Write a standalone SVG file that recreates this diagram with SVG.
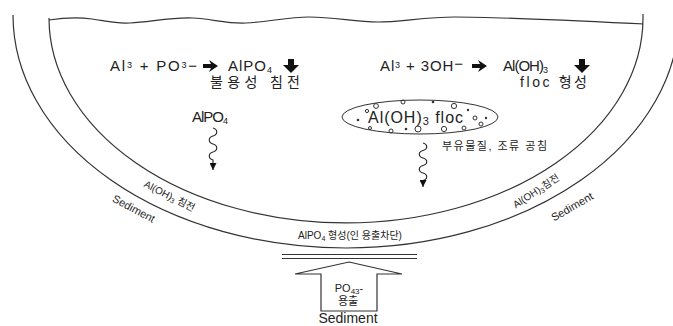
<svg xmlns="http://www.w3.org/2000/svg" width="673" height="326" viewBox="0 0 673 326">
  <style>
    text { font-family: "Liberation Sans", "Noto Sans CJK KR", sans-serif; fill: #222; }
    .eq { font-size: 15px; }
    .ko { font-size: 14px; }
    .mid { font-size: 16px; }
    .band { font-size: 10px; }
    .sed { font-size: 11px; }
    .small { font-size: 11px; }
    .line { fill: none; stroke: #333; stroke-width: 1.2; }
    .wavy { fill: none; stroke: #222; stroke-width: 1.1; }
    .bold { fill: #111; }
    .bub { fill: none; stroke: #333; stroke-width: 1; }
    .dot { fill: #333; }
  </style>
  <defs>
    <marker id="head" viewBox="0 0 10 10" refX="10" refY="5" markerWidth="7" markerHeight="7" orient="auto" markerUnits="userSpaceOnUse">
      <path d="M0,0 L10,5 L0,10 Z" fill="#111"/>
    </marker>
    <path id="rarrow" d="M0,-2 H8 L6,-6 L15,0 L6,6 L8,2 H0 Z"/>
    <path id="darrow" d="M-3,-7 H3 V-1 H8 L0,7 L-8,-1 H-3 Z"/>
  </defs>

  <!-- pond basin: sediment boundary, water body and surface -->
  <g id="basin">
    <path class="line" d="M13,15 A333,233 0 0 0 679,15"/>
    <path class="line" d="M49,18 A297,205 0 0 0 643,18 V14"/>
    <path class="line" d="M49,20 C62,18 78,17 92,19 C106,21 116,24 130,23 C150,22 172,17 193,18 C212,19 228,24 246,23 C268,22 288,17 309,17 C335,17 355,22 378,22 C400,22 425,17 455,17 C500,17 560,20 643,24"/>
  </g>

  <!-- reaction: aluminium + phosphate -->
  <g id="reaction-phosphate">
    <text class="eq" x="110" y="71" textLength="87" lengthAdjust="spacing">Al<tspan font-size="9" dy="-3">3</tspan><tspan dy="3"> + PO</tspan><tspan font-size="9" dy="-3">3</tspan><tspan dy="3">−</tspan></text>
    <use href="#rarrow" class="bold" x="203" y="66"/>
    <text class="eq" x="228" y="71" textLength="44" lengthAdjust="spacing">AlPO<tspan font-size="9" dy="2">4</tspan></text>
    <use href="#darrow" class="bold" x="291" y="66"/>
    <text class="ko" x="210" y="87" textLength="90" lengthAdjust="spacing">불용성 침전</text>
  </g>

  <!-- reaction: aluminium + hydroxide -->
  <g id="reaction-hydroxide">
    <text class="eq" x="380" y="71" textLength="83" lengthAdjust="spacing">Al<tspan font-size="9" dy="-3">3</tspan><tspan dy="3"> + 3OH</tspan><tspan dy="-2">−</tspan></text>
    <use href="#rarrow" class="bold" x="472" y="66"/>
    <text class="eq" x="503" y="71" textLength="45" lengthAdjust="spacing">Al(OH)<tspan font-size="9" dy="2">3</tspan></text>
    <use href="#darrow" class="bold" x="582" y="66"/>
    <text class="ko" x="520" y="87" textLength="67" lengthAdjust="spacing">floc 형성</text>
  </g>

  <!-- settling AlPO4 -->
  <g id="alpo4">
    <text class="eq" x="192" y="122" textLength="36" lengthAdjust="spacing">AlPO<tspan font-size="9" dy="2">4</tspan></text>
  </g>

  <!-- hydroxide floc -->
  <g id="floc">
    <ellipse class="bub" cx="420" cy="117" rx="78" ry="17"/>
    <text class="mid" x="368" y="123" textLength="95" lengthAdjust="spacing">Al(OH)<tspan font-size="11" dy="2">3</tspan><tspan dy="-2"> floc</tspan></text>
    <circle class="dot" cx="358" cy="120" r="1.3"/>
    <circle class="bub" cx="367" cy="111" r="1.6"/>
    <circle class="bub" cx="376" cy="106" r="2.4"/>
    <circle class="bub" cx="403" cy="102" r="2"/>
    <circle class="dot" cx="433" cy="102" r="1.3"/>
    <circle class="bub" cx="454" cy="106" r="2.6"/>
    <circle class="dot" cx="468" cy="110" r="1.2"/>
    <circle class="bub" cx="475" cy="118" r="2"/>
    <circle class="dot" cx="486" cy="118" r="1.2"/>
    <circle class="bub" cx="481" cy="124" r="2"/>
    <circle class="bub" cx="370" cy="128" r="1.5"/>
    <circle class="bub" cx="391" cy="131" r="2"/>
    <circle class="dot" cx="406" cy="129" r="1.3"/>
    <circle class="bub" cx="418" cy="129" r="3"/>
    <circle class="bub" cx="444" cy="129" r="2.6"/>
    <circle class="bub" cx="464" cy="128" r="2"/>
    <text class="small" x="442" y="150" textLength="105" lengthAdjust="spacing">부유물질, 조류 공침</text>
  </g>

  <!-- layer labels -->
  <g id="labels">
    <text class="band" transform="translate(168,199) rotate(27)" text-anchor="middle">Al(OH)<tspan font-size="7" dy="2">3</tspan><tspan dy="-2"> 침전</tspan></text>
    <text class="sed" transform="translate(132,212) rotate(28)" text-anchor="middle">Sediment</text>
    <text class="band" transform="translate(538,194) rotate(-33)" text-anchor="middle">Al(OH)<tspan font-size="7" dy="2">3</tspan><tspan dy="-2">침전</tspan></text>
    <text class="sed" transform="translate(574,210) rotate(-30)" text-anchor="middle">Sediment</text>
    <text class="band" x="350" y="239" text-anchor="middle">AlPO<tspan font-size="7" dy="2">4</tspan><tspan dy="-2"> 형성(인 용출차단)</tspan></text>
  </g>

  <!-- phosphate release from sediment, blocked -->
  <g id="release">
    <path class="line" d="M282,254.5 H417 M282,258.5 H417"/>
    <polygon class="line" fill="#fff" points="349,262 402,274 377,274 377,311 321,311 321,274 295,274"/>
    <text class="small" x="349" y="292" text-anchor="middle">PO<tspan font-size="8" dy="2">43</tspan><tspan dy="-2">-</tspan></text>
    <text class="small" x="348" y="305" text-anchor="middle">용출</text>
    <text class="ko" x="348" y="323" text-anchor="middle">Sediment</text>
  </g>

  <!-- settling paths -->
  <g id="connectors">
    <path class="wavy" marker-end="url(#head)" d="M213,128 c5,1.5 5,6.5 0,8 s-5,6.5 0,8 s5,6.5 0,8 s-5,6.5 0,8 v10"/>
    <path class="wavy" marker-end="url(#head)" d="M423,143 c5,1.5 5,6 0,7.5 s-5,6 0,7.5 s5,6 0,7.5 s-5,6 0,7.5 s5,6 0,7.5 v6.5"/>
  </g>
</svg>
